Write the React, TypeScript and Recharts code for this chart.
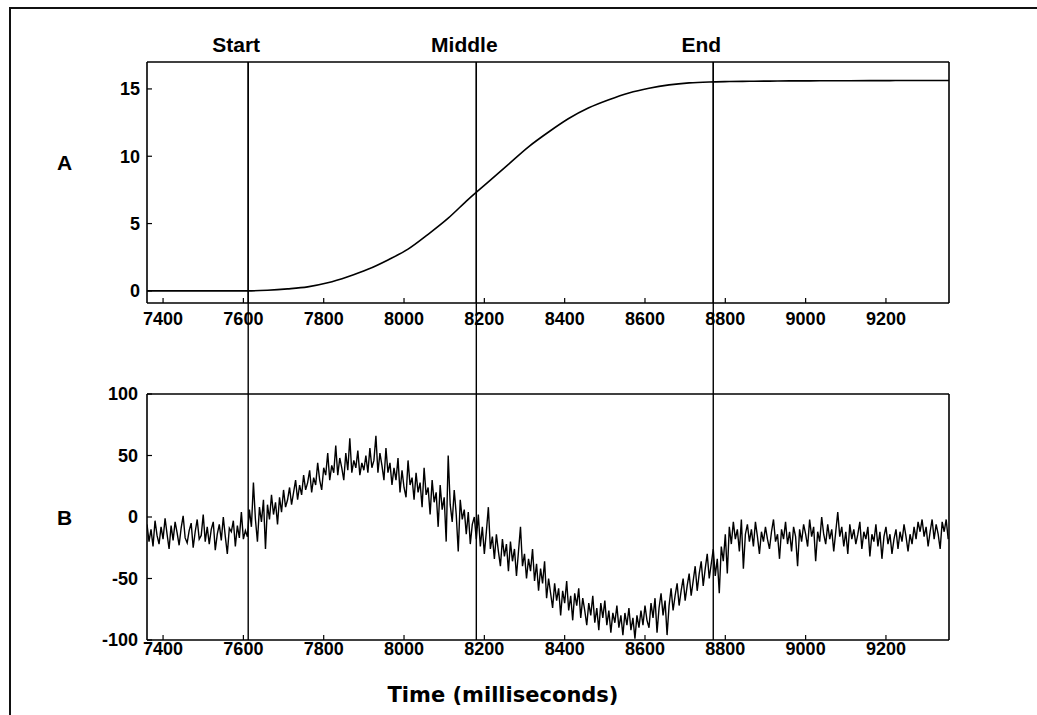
import { Line, LineChart, ReferenceLine, XAxis, YAxis } from "recharts";

const FONT = "'Liberation Sans', Arial, Helvetica, sans-serif";

// time axis (ms)
const TIME_DOMAIN: [number, number] = [7360, 9357];
const TIME_TICKS = [7400, 7600, 7800, 8000, 8200, 8400, 8600, 8800, 9000, 9200];

const EVENT_NAMES = ["Start", "Middle", "End"];
const EVENT_TIMES = [7612, 8180, 8770];

// panel A: position
const POSITION_TICKS = [0, 5, 10, 15];
const positionTimes = [
  7360, 7410, 7460, 7510, 7560, 7610, 7660, 7710, 7760, 7810, 7860, 7910, 7960, 8010, 8060, 8110, 8160, 8210, 8260, 8310,
  8360, 8410, 8460, 8510, 8560, 8610, 8660, 8710, 8760, 8810, 8860, 8910, 8960, 9010, 9060, 9110, 9160, 9210, 9260, 9310, 9360,
];
const positionValues = [
  0, 0, 0, 0, 0, 0, 0.05, 0.15, 0.3, 0.6, 1.05, 1.6, 2.3, 3.1, 4.2, 5.4, 6.8, 8.1, 9.4, 10.7,
  11.8, 12.8, 13.6, 14.2, 14.7, 15.05, 15.3, 15.45, 15.52, 15.55, 15.57, 15.58, 15.6, 15.6, 15.61, 15.61, 15.62, 15.62, 15.63, 15.63, 15.63,
];

// panel B: velocity, one sample every 5 ms from 7360 ms
const VELOCITY_START = 7360;
const VELOCITY_STEP = 5;
const VELOCITY_TICKS = [-100, -50, 0, 50, 100];
const velocityValues = [
  // 7360 - 7605
  -6, -20, -10, -24, -3, -15, -22, -8, -18, -1,
  -14, -26, -7, -19, -4, -13, -23, -9, 1, -17,
  -21, -11, -5, -25, -12, -2, -18, -15, 2, -20,
  -8, -22, -10, -4, -27, -14, -6, -19, 0, -16,
  -30, -9, -12, -3, -24, -7, -17, 4, -18, -11,
  // 7610 - 7985
  -16, 6, -8, 28, -2, -20, 8, -4, 14, -26,
  10, -2, 18, 2, 12, -6, 16, 4, 22, 8,
  14, 24, 10, 20, 30, 14, 26, 18, 34, 22,
  28, 38, 20, 32, 26, 44, 30, 22, 40, 34,
  52, 30, 42, 36, 58, 34, 48, 40, 30, 52,
  38, 64, 36, 46, 40, 54, 34, 44, 38, 50,
  36, 56, 40, 46, 66, 36, 52, 42, 30, 56,
  36, 44, 26, 40, 30, 48,
  // 7990 - 8175
  20, 38, 24, 16, 46, 26, 32, 14, 36, 20,
  28, 8, 40, 18, 24, 2, 30, 12, 20, -8,
  26, 6, 16, -20, 50, 10, -4, 22, 2, -28,
  14, -2, 6, -14, 4, -22, -6, 0,
  // 8180 - 8605
  -18, 2, -24, -8, -30, -12, 8, -26, -16, -34,
  -14, -28, -40, -18, -32, -22, -44, -20, -36, -26,
  -48, -28, -8, -40, -30, -50, -34, -44, -26, -52,
  -38, -60, -42, -54, -36, -66, -50, -62, -74, -54,
  -68, -58, -80, -60, -70, -52, -76, -64, -84, -62,
  -72, -58, -82, -66, -76, -88, -70, -80, -64, -86,
  -74, -92, -70, -82, -68, -88, -76, -94, -78, -86,
  -72, -90, -80, -96, -78, -88, -74, -92, -82, -99,
  -80, -90, -76, -88, -72, -84,
  // 8610 - 8805
  -90, -70, -82, -66, -94, -74, -62, -80, -68, -96,
  -72, -58, -76, -64, -54, -72, -60, -50, -68, -56,
  -46, -64, -52, -40, -60, -46, -36, -56, -42, -30,
  -50, -38, -26, -48, -34, -62, -24, -36, -14, -46,
  // 8810 - 9355
  -8, -22, -4, -18, -10, -28, -2, -42, -14, -6,
  -20, -10, -24, -4, -16, -30, -12, -20, -8, -18,
  -26, -12, -2, -20, -14, -34, -10, -18, -4, -22,
  -12, -28, -8, -16, -40, -10, -20, -6, -14, -24,
  -2, -16, -8, -36, -12, -20, 0, -14, -22, -6,
  -18, -10, -28, -12, 4, -16, -8, -24, -12, -30,
  -6, -18, -10, -22, -14, -4, -26, -12, -18, -8,
  -32, -14, -20, -6, -24, -12, -34, -16, -8, -22,
  -14, -30, -18, -10, -26, -12, -20, -6, -16, -28,
  -14, -22, -8, -18, -4, -12, -2, -16, -8, -24,
  -12, -2, -18, -6, -14, -26, -4, -12, -2, -18,
];

const positionData = positionTimes.map((t, i) => ({ t, v: positionValues[i] }));
const velocityData = velocityValues.map((v, i) => ({ t: VELOCITY_START + i * VELOCITY_STEP, v }));

const tickStyle = { fill: "#000", fontSize: 18, fontWeight: 700, fontFamily: FONT };
const frame = { stroke: "#000", strokeWidth: 1.6 };
const tickLine = { stroke: "#000", strokeWidth: 1.2 };

export default function App() {
  return (
    <div style={{ position: "fixed", left: 0, top: 0, width: 1037, height: 715, overflow: "hidden", background: "#fff", fontFamily: FONT }}>
      <svg height={715} style={{ position: "absolute", left: 0, top: 0 }} width={1037}>
        <path d="M10 715 V8 H1037" fill="none" stroke="#111" strokeWidth={2} />
      </svg>

      <div style={{ position: "absolute", left: 8, top: 8, width: 1029, height: 707 }}>
        {/* panel B sits underneath; its event lines run up through the gap into panel A */}
        <div style={{ position: "absolute", left: 0, top: 0 }}>
          <LineChart width={1029} height={702} data={velocityData} margin={{ top: 382, right: 78, bottom: 0, left: 0 }}>
            <XAxis allowDataOverflow axisLine={frame} dataKey="t" domain={TIME_DOMAIN} height={70} interval={0} tick={tickStyle} tickLine={tickLine} tickMargin={7} tickSize={-5} ticks={TIME_TICKS} type="number" />
            <XAxis allowDataOverflow axisLine={frame} dataKey="t" domain={TIME_DOMAIN} height={4} interval={0} orientation="top" tick={false} tickLine={tickLine} tickSize={-5} ticks={TIME_TICKS} type="number" xAxisId="top" />
            <YAxis allowDataOverflow axisLine={frame} domain={[-100, 100]} interval={0} tick={tickStyle} tickLine={tickLine} tickMargin={14} tickSize={-5} ticks={VELOCITY_TICKS} type="number" width={139} />
            <YAxis allowDataOverflow axisLine={frame} domain={[-100, 100]} interval={0} orientation="right" tick={false} tickLine={tickLine} tickSize={-5} ticks={VELOCITY_TICKS} type="number" width={10} yAxisId="right" />
            {EVENT_TIMES.map((t) => (
              <ReferenceLine key={t} ifOverflow="visible" segment={[{ x: t, y: -100 }, { x: t, y: 370 }]} stroke="#000" strokeWidth={1.4} />
            ))}
            <Line dataKey="v" dot={false} isAnimationActive={false} stroke="#000" strokeWidth={1.4} type="linear" />
          </LineChart>
        </div>

        <div style={{ position: "absolute", left: 0, top: 0 }}>
          <LineChart width={1029} height={332} data={positionData} margin={{ top: 50, right: 78, bottom: 0, left: 0 }}>
            <XAxis allowDataOverflow axisLine={frame} dataKey="t" domain={TIME_DOMAIN} height={37} interval={0} tick={tickStyle} tickLine={tickLine} tickMargin={14} tickSize={-5} ticks={TIME_TICKS} type="number" />
            <XAxis allowDataOverflow axisLine={frame} dataKey="t" domain={TIME_DOMAIN} height={4} interval={0} orientation="top" tick={false} tickLine={tickLine} tickSize={-5} ticks={TIME_TICKS} type="number" xAxisId="top" />
            <YAxis allowDataOverflow axisLine={frame} domain={[-0.9, 17]} interval={0} tick={tickStyle} tickLine={tickLine} tickMargin={12} tickSize={-5} ticks={POSITION_TICKS} type="number" width={139} />
            <YAxis allowDataOverflow axisLine={frame} domain={[-0.9, 17]} interval={0} orientation="right" tick={false} tickLine={tickLine} tickSize={-5} ticks={POSITION_TICKS} type="number" width={10} yAxisId="right" />
            {EVENT_TIMES.map((t, i) => (
              <ReferenceLine key={t} label={{ value: EVENT_NAMES[i], position: "top", offset: 10, dx: -12, fill: "#000", fontSize: 21, fontWeight: 700, fontFamily: FONT }} stroke="#000" strokeWidth={1.4} x={t} />
            ))}
            <Line dataKey="v" dot={false} isAnimationActive={false} stroke="#000" strokeWidth={1.6} type="monotone" />
          </LineChart>
        </div>

        <svg height={707} style={{ position: "absolute", left: 0, top: 0, pointerEvents: "none" }} width={1029}>
          <text fill="#000" fontFamily={FONT} fontSize={21} fontWeight={700} x={49} y={162}>A</text>
          <text fill="#000" fontFamily={FONT} fontSize={21} fontWeight={700} x={49} y={517}>B</text>
          <text fill="#000" fontFamily="'DejaVu Sans', sans-serif" fontSize={21} fontWeight={700} textAnchor="middle" x={495} y={694}>Time (milliseconds)</text>
        </svg>
      </div>
    </div>
  );
}
